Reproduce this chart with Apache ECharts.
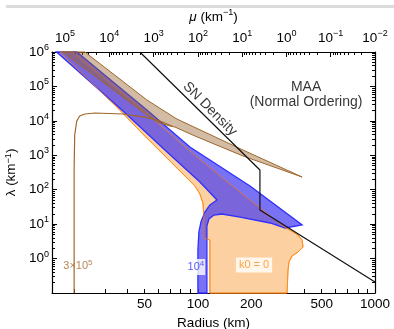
<!DOCTYPE html>
<html><head><meta charset="utf-8">
<script src="https://cdn.jsdelivr.net/npm/echarts@6/dist/echarts.min.js"></script>
<style>html,body{margin:0;padding:0;background:#fff}#c{width:394px;height:329px}</style>
</head><body><div id="c"></div>
<script>
// ---- tick labels ----
const radiusTickLabels = [50, 100, 200, 500, 1000];
const radiusTicks = [20,30,40,50,60,70,80,90,100,200,300,400,500,600,700,800,900,1000];
const lambdaTickLabels = [1, 10, 100, 1e3, 1e4, 1e5, 1e6];
const muTickLabels = [1e-2, 1e-1, 1, 10, 100, 1e3, 1e4, 1e5];

// ---- data: [radius (km), lambda (km^-1)] ----
const snDensity = [[47.0,1e6],[224,374],[224,25.8],[1000,0.209]];
const contour3e5 = [[20,0.1],[20,374],[20.15,3884],[20.7,9900],[21.5,1.38e4],[23.0,1.58e4],[26.2,1.69e4],[37.7,1.58e4],[50.1,1.29e4],[61.0,9900],[71.3,7090]];
const region3e5 = [[17.2,1e6],[23.0,1e6],[51.5,4.04e4],[76.1,1.13e4],[179.7,1420],[387.6,234],[179.7,954],[96.2,3633],[74.1,6630],[69.4,7090],[61.0,8670],[56.4,1.06e4],[39.7,4.04e4]];
const region1e4 = [[15.9,1e6],[20.7,1e6],[51.5,2.07e4],[90.1,1740],[196.8,128],[387.6,9.45],[310.5,7.73],[255.5,10.8],[172.8,16.1],[136.7,19.7],[123.2,18.4],[115.4,14.1],[112.4,8.84],[112.4,0.1],[100,0.1],[100,1.77],[101.3,5.91],[104.0,11.5],[109.5,22.5],[116.9,36.0],[128.1,50.3],[102.6,168],[65.1,1420],[37.2,2.07e4]];
const regionK0 = [[16.6,1e6],[19.4,1e6],[50.1,1.81e4],[90.1,1332],[142.1,191.6],[224.2,29.4],[302.5,8.84],[367.9,4.84],[387.6,3.46],[392.6,2.17],[367.9,1.55],[340.1,1.19],[327.0,0.80],[322.8,0.466],[318.7,0.1],[116.9,0.1],[116.9,3.46],[108.1,3.96],[108.1,18.4],[106.7,41.1],[102.6,75.1],[96.2,128],[79.1,350],[61.0,1332],[47.0,5076],[35.3,2.36e4]];
const annotationPos = { sn:[116.9,2.21e4], maa:[408,5.64e4], l3e5:[21.0,0.609], l1e4:[97.4,0.569], k0:[207.4,0.651] };

const R_MIN = 15, R_MAX = 1000;
const MU_MIN = 0.01, MU_MAX = 0.01 * Math.pow(R_MAX / R_MIN, 4);

const FONT = 'Liberation Sans';
const BLACK = '#000';
const BROWN = '#a0662a', BLUE = '#2f2fff', ORANGE = '#ff8c1a';

function minorTicks(k0, k1, lo, hi) {
  const out = [];
  for (let k = k0; k <= k1; k++) for (let m = 2; m <= 9; m++) {
    const v = m * Math.pow(10, k); if (v >= lo && v <= hi) out.push(v);
  }
  return out;
}
function powLabel(v) {
  const e = Math.round(Math.log10(v));
  return '{b|10}{s|' + (e < 0 ? '\u2212' + (-e) : e) + '}';
}
const richPow = {
  b: { fontSize: 13.5, fontFamily: FONT, color: BLACK, lineHeight: 18 },
  s: { fontSize: 9, fontFamily: FONT, color: BLACK, verticalAlign: 'top', lineHeight: 9 }
};

function polySeries(pts, fill, stroke, lw) {
  return {
    type: 'custom', xAxisIndex: 0, yAxisIndex: 0, silent: true, animation: false,
    data: pts, encode: { x: 0, y: 1 },
    renderItem: function (params, api) {
      if (params.dataIndex !== 0) return null;
      return { type: 'polygon', shape: { points: pts.map(p => api.coord(p)) },
               style: { fill: fill, stroke: stroke, lineWidth: lw } };
    }
  };
}

const baseAxis = { splitLine: { show: false }, axisLine: { onZero: false, lineStyle: { color: BLACK, width: 1.2 } } };
const noLine = { show: false };

const chart = echarts.init(document.getElementById('c'), null, { renderer: 'canvas' });
chart.setOption({
  animation: false,
  backgroundColor: '#fff',
  grid: { left: 52, right: 19, top: 52, bottom: 36, containLabel: false, outerBoundsMode: 'none' },
  graphic: [{ type: 'rect', shape: { x: 6, y: 5, width: 388, height: 3 }, style: { fill: '#dcdcdc' }, silent: true }],
  xAxis: [
    Object.assign({}, baseAxis, {
      type: 'log', position: 'bottom', min: R_MIN, max: R_MAX,
      name: 'Radius (km)', nameLocation: 'middle', nameGap: 22,
      nameTextStyle: { fontSize: 13.5, fontFamily: FONT, color: BLACK },
      axisTick: { inside: true, length: 4, customValues: radiusTicks, lineStyle: { color: BLACK, width: 1 } },
      axisLabel: { customValues: radiusTickLabels, formatter: v => String(Math.round(v)), fontSize: 13.5, fontFamily: FONT, color: BLACK, margin: 4 }
    }),
    Object.assign({}, baseAxis, {
      type: 'log', position: 'top', inverse: true, min: MU_MIN, max: MU_MAX,
      name: '{g|\u03bc} (km{s|\u22121})', nameLocation: 'middle', nameGap: 25,
      nameTextStyle: { fontSize: 13.5, fontFamily: FONT, color: BLACK,
        rich: { g: { fontSize: 13.5, fontFamily: FONT, fontStyle: 'italic', color: BLACK, lineHeight: 18 },
                s: { fontSize: 9, fontFamily: FONT, color: BLACK, verticalAlign: 'top', lineHeight: 9 } } },
      axisTick: { inside: true, length: 5, customValues: muTickLabels, lineStyle: { color: BLACK, width: 1 } },
      axisLabel: { customValues: muTickLabels, formatter: powLabel, rich: richPow, margin: 5 }
    }),
    {
      type: 'log', position: 'top', inverse: true, min: MU_MIN, max: MU_MAX,
      splitLine: { show: false }, axisLine: noLine, axisLabel: { show: false },
      axisTick: { inside: true, length: 3, customValues: minorTicks(-2, 4, MU_MIN, MU_MAX), lineStyle: { color: BLACK, width: 1 } }
    }
  ],
  yAxis: [
    Object.assign({}, baseAxis, {
      type: 'log', position: 'left', min: 0.1, max: 1e6,
      name: '\u03bb (km{s|\u22121})', nameLocation: 'middle', nameGap: 28, nameRotate: 90,
      nameTextStyle: { fontSize: 13.5, fontFamily: FONT, color: BLACK,
        rich: { s: { fontSize: 9, fontFamily: FONT, color: BLACK, verticalAlign: 'top', lineHeight: 9 } } },
      axisTick: { inside: true, length: 5, customValues: lambdaTickLabels, lineStyle: { color: BLACK, width: 1 } },
      axisLabel: { customValues: lambdaTickLabels, formatter: powLabel, rich: richPow, margin: 3 }
    }),
    {
      type: 'log', position: 'left', min: 0.1, max: 1e6,
      splitLine: { show: false }, axisLine: noLine, axisLabel: { show: false },
      axisTick: { inside: true, length: 3, customValues: minorTicks(-1, 5, 0.1, 1e6), lineStyle: { color: BLACK, width: 1 } }
    },
    Object.assign({}, baseAxis, {
      type: 'log', position: 'right', min: 0.1, max: 1e6, axisLabel: { show: false },
      axisTick: { inside: true, length: 5, customValues: lambdaTickLabels, lineStyle: { color: BLACK, width: 1 } }
    }),
    {
      type: 'log', position: 'right', min: 0.1, max: 1e6,
      splitLine: { show: false }, axisLine: noLine, axisLabel: { show: false },
      axisTick: { inside: true, length: 3, customValues: minorTicks(-1, 5, 0.1, 1e6), lineStyle: { color: BLACK, width: 1 } }
    }
  ],
  series: [
    polySeries(regionK0, '#fdd0a2', ORANGE, 1),
    polySeries(region1e4, 'rgba(70,60,240,0.72)', BLUE, 1.3),
    polySeries(regionK0, 'none', 'rgba(255,140,26,0.85)', 0.8),
    polySeries(region3e5, 'rgba(150,95,40,0.42)', BROWN, 1),
    { type: 'line', xAxisIndex: 0, yAxisIndex: 0, data: contour3e5, showSymbol: false, symbol: 'none',
      lineStyle: { color: BROWN, width: 1.2 }, silent: true },
    { type: 'line', xAxisIndex: 0, yAxisIndex: 0, data: snDensity, showSymbol: false, symbol: 'none',
      lineStyle: { color: '#111', width: 1.2 }, silent: true },
    { type: 'scatter', xAxisIndex: 0, yAxisIndex: 0, symbolSize: 1, itemStyle: { color: 'rgba(0,0,0,0)' }, silent: true,
      label: { show: true, position: 'inside', fontFamily: FONT },
      data: [
        { value: annotationPos.sn, label: { formatter: 'SN Density', rotate: -45, fontSize: 14, color: BLACK } },
        { value: annotationPos.maa, label: { formatter: 'MAA\n(Normal Ordering)', fontSize: 14, lineHeight: 15, align: 'center', color: BLACK } },
        { value: annotationPos.l3e5, label: { formatter: '{b|3\u00d710}{s|5}', backgroundColor: '#fff', padding: [1, 1],
            rich: { b: { fontSize: 11, fontFamily: FONT, color: BROWN, lineHeight: 14 }, s: { fontSize: 8, fontFamily: FONT, color: BROWN, verticalAlign: 'top', lineHeight: 8 } } } },
        { value: annotationPos.l1e4, label: { formatter: '{b|10}{s|4}', backgroundColor: '#fff', padding: [1, 1],
            rich: { b: { fontSize: 11, fontFamily: FONT, color: BLUE, lineHeight: 14 }, s: { fontSize: 8, fontFamily: FONT, color: BLUE, verticalAlign: 'top', lineHeight: 8 } } } },
        { value: annotationPos.k0, label: { formatter: 'k0 = 0', fontSize: 11, color: ORANGE, backgroundColor: '#fff', padding: [2, 3] } }
      ]
    }
  ]
});
</script></body></html>
